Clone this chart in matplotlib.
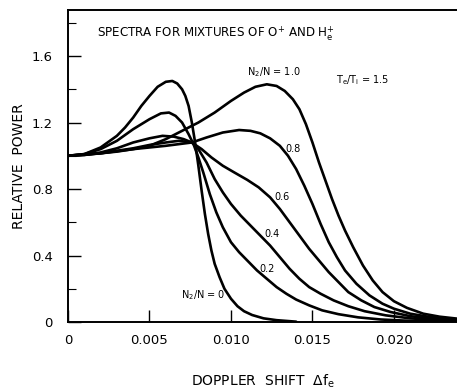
import matplotlib
matplotlib.use("Agg")
import matplotlib.pyplot as plt
from matplotlib.ticker import MultipleLocator

# ---- data ----
x_r0 = [0, 0.001, 0.002, 0.003, 0.0035, 0.004, 0.0045, 0.005, 0.0055, 0.0060, 0.0064, 0.0067,
        0.0070, 0.0072, 0.0074, 0.0076, 0.0078, 0.0080, 0.0082, 0.0084, 0.0086, 0.0088,
        0.0090, 0.0093, 0.0096, 0.0100, 0.0104, 0.0108, 0.0113, 0.0120, 0.0128, 0.0136, 0.0140]
y_r0 = [1.0, 1.01, 1.05, 1.12, 1.17, 1.23, 1.30, 1.36, 1.415, 1.445, 1.45, 1.435,
        1.40, 1.36, 1.30, 1.20, 1.08, 0.94, 0.79, 0.65, 0.53, 0.43,
        0.35, 0.27, 0.20, 0.14, 0.095, 0.065, 0.042, 0.022, 0.011, 0.005, 0.002]

x_r2 = [0, 0.001, 0.002, 0.003, 0.004, 0.005, 0.0057, 0.0062, 0.0066, 0.0070, 0.0074, 0.0077,
        0.0080, 0.0083, 0.0087, 0.0091, 0.0095, 0.0100, 0.0105, 0.0110, 0.0116, 0.0122,
        0.0128, 0.0134, 0.0140, 0.0148, 0.0156, 0.0166, 0.0178, 0.0192, 0.0210, 0.0239]
y_r2 = [1.0, 1.01, 1.04, 1.09, 1.16, 1.22, 1.255, 1.26, 1.24, 1.20, 1.13, 1.07,
        0.99, 0.90, 0.77, 0.66, 0.57, 0.48, 0.42, 0.37, 0.31, 0.26,
        0.21, 0.17, 0.135, 0.10, 0.07, 0.047, 0.028, 0.015, 0.007, 0.002]

x_r4 = [0, 0.001, 0.002, 0.003, 0.004, 0.005, 0.0058, 0.0065, 0.0071, 0.0076, 0.0080, 0.0085,
        0.0090, 0.0095, 0.0100, 0.0106, 0.0112, 0.0118, 0.0124, 0.0130, 0.0136, 0.0142,
        0.0148, 0.0155, 0.0163, 0.0172, 0.0182, 0.0195, 0.0210, 0.0225, 0.0239]
y_r4 = [1.0, 1.005, 1.02, 1.045, 1.08, 1.105, 1.12, 1.115, 1.10, 1.08, 1.04, 0.96,
        0.86, 0.78, 0.71, 0.64, 0.58, 0.52, 0.46, 0.39, 0.32, 0.26,
        0.21, 0.17, 0.13, 0.095, 0.065, 0.04, 0.022, 0.012, 0.006]

x_r6 = [0, 0.002, 0.004, 0.005, 0.006, 0.0068, 0.0076, 0.0082, 0.0088, 0.0095, 0.0102, 0.0110,
        0.0117, 0.0124, 0.0130, 0.0136, 0.0142, 0.0148, 0.0154, 0.0160, 0.0166, 0.0172,
        0.0180, 0.0188, 0.0198, 0.0210, 0.0225, 0.0239]
y_r6 = [1.0, 1.015, 1.045, 1.065, 1.08, 1.09, 1.08, 1.04, 0.99, 0.94, 0.90, 0.855,
        0.81, 0.75, 0.68, 0.60, 0.52, 0.44, 0.37, 0.30, 0.24, 0.18,
        0.13, 0.09, 0.06, 0.035, 0.018, 0.008]

x_r8 = [0, 0.002, 0.004, 0.006, 0.0076, 0.0085, 0.0095, 0.0105, 0.0112, 0.0118, 0.0124, 0.0130,
        0.0135, 0.0140, 0.0145, 0.0150, 0.0155, 0.0160, 0.0165, 0.0170, 0.0177, 0.0185,
        0.0193, 0.0200, 0.0210, 0.0222, 0.0239]
y_r8 = [1.0, 1.015, 1.04, 1.06, 1.08, 1.11, 1.14, 1.155, 1.15, 1.135, 1.105, 1.06,
        1.00, 0.92, 0.82, 0.71, 0.59, 0.48, 0.39, 0.31, 0.23, 0.16,
        0.11, 0.08, 0.05, 0.03, 0.015]

x_r10 = [0, 0.001, 0.002, 0.003, 0.004, 0.005, 0.006, 0.007, 0.008, 0.009, 0.010, 0.0108,
         0.0115, 0.0122, 0.0128, 0.0133, 0.0138, 0.0142, 0.0146, 0.0150, 0.0154, 0.0158,
         0.0162, 0.0166, 0.0170, 0.0175, 0.0181, 0.0187, 0.0193, 0.0200, 0.0208, 0.0218,
         0.0228, 0.0239]
y_r10 = [1.0, 1.005, 1.015, 1.025, 1.04, 1.06, 1.10, 1.15, 1.20, 1.26, 1.33, 1.38,
         1.415, 1.43, 1.42, 1.39, 1.34, 1.28, 1.19, 1.08, 0.96, 0.85,
         0.74, 0.64, 0.55, 0.45, 0.34, 0.25, 0.18, 0.125, 0.085, 0.05,
         0.032, 0.02]

series = [(x_r0, y_r0), (x_r2, y_r2), (x_r4, y_r4), (x_r6, y_r6), (x_r8, y_r8), (x_r10, y_r10)]

x_ticks = [0, 0.005, 0.010, 0.015, 0.020]
x_ticklabels = ["0", "0.005", "0.010", "0.015", "0.020"]
y_ticks = [0, 0.4, 0.8, 1.2, 1.6]
y_ticklabels = ["0", "0.4", "0.8", "1.2", "1.6"]

# ---- figure ----
fig = plt.figure(figsize=(4.57, 3.91), dpi=100)
ax = fig.add_axes([68 / 457, 69 / 391, 1 - 68 / 457, 312 / 391])

for xs, ys in series:
    ax.plot(xs, ys, color="black", lw=1.9, solid_capstyle="round", solid_joinstyle="round")

ax.set_xlim(0, 0.02387)
ax.set_ylim(0, 1.877)

ax.spines["right"].set_visible(False)
for s in ["left", "bottom", "top"]:
    ax.spines[s].set_linewidth(1.4)

ax.set_xticks(x_ticks)
ax.set_xticklabels(x_ticklabels)
ax.set_yticks(y_ticks)
ax.set_yticklabels(y_ticklabels)
ax.yaxis.set_minor_locator(MultipleLocator(0.2))
ax.tick_params(axis="both", which="major", direction="in", length=9, width=1.0,
               labelsize=9.5, top=False, right=False)
ax.tick_params(axis="y", which="minor", direction="in", length=6, width=0.8, right=False)
ax.tick_params(axis="x", which="major", pad=9)
ax.tick_params(axis="y", which="major", pad=11)

ax.set_ylabel("RELATIVE  POWER", fontsize=10, labelpad=4)
ax.set_xlabel(r"DOPPLER  SHIFT  $\Delta$f$_{\mathregular{e}}$", fontsize=10, labelpad=18)

fs = 7
ax.text(0.00178, 1.738, r"SPECTRA FOR MIXTURES OF O$^{+}$ AND H$_{\mathregular{e}}^{+}$",
        fontsize=8.6, ha="left", va="center")
ax.text(0.01262, 1.503, r"N$_2$/N = 1.0", fontsize=fs, ha="center", va="center")
ax.text(0.01810, 1.455, r"T$_{\mathregular{e}}$/T$_{\mathregular{i}}$ = 1.5", fontsize=fs, ha="center", va="center")
ax.text(0.01380, 1.040, "0.8", fontsize=fs, ha="center", va="center")
ax.text(0.01313, 0.752, "0.6", fontsize=fs, ha="center", va="center")
ax.text(0.01252, 0.530, "0.4", fontsize=fs, ha="center", va="center")
ax.text(0.01221, 0.319, "0.2", fontsize=fs, ha="center", va="center")
ax.text(0.00830, 0.162, r"N$_2$/N = 0", fontsize=fs, ha="center", va="center")

fig.savefig("out.png", dpi=100)
